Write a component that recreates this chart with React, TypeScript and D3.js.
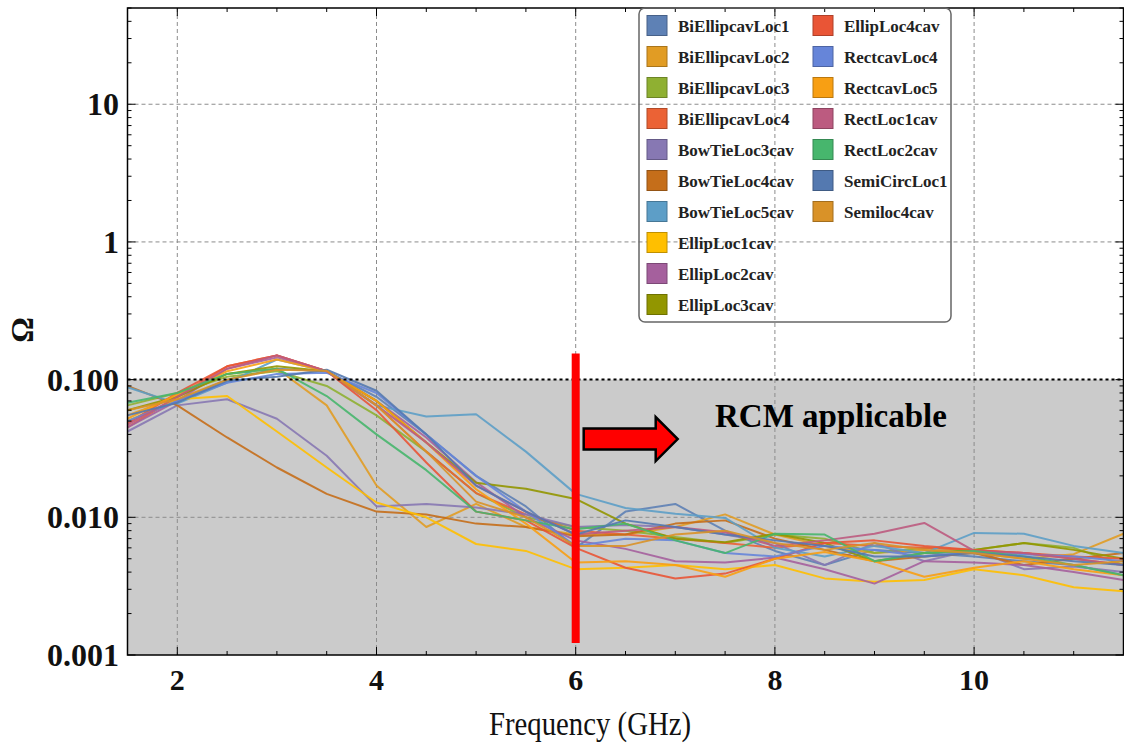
import React from "react";
import * as d3 from "d3";

// Frequency samples (GHz)
const freqs = [1.5, 2, 2.5, 3, 3.5, 4, 4.5, 5, 5.5, 6, 6.5, 7, 7.5, 8, 8.5, 9, 9.5, 10, 10.5, 11, 11.5];

const seriesNames = [
  "BiEllipcavLoc1", "BiEllipcavLoc2", "BiEllipcavLoc3", "BiEllipcavLoc4",
  "BowTieLoc3cav", "BowTieLoc4cav", "BowTieLoc5cav", "EllipLoc1cav",
  "EllipLoc2cav", "EllipLoc3cav", "EllipLoc4cav", "RectcavLoc4",
  "RectcavLoc5", "RectLoc1cav", "RectLoc2cav", "SemiCircLoc1", "Semiloc4cav",
];

const seriesColors = [
  "#5E81B5", "#E19C24", "#8FB032", "#EB6235",
  "#8778B3", "#C56E1A", "#5D9EC7", "#FFBF00",
  "#A5609D", "#929600", "#E95536", "#6685D9",
  "#F89F13", "#BC5B80", "#47B66D", "#5479B0", "#D99228",
];

// Ω values per geometry, one array per series
const biEllipcavLoc1 = [0.05, 0.07, 0.1, 0.12, 0.115, 0.075, 0.04, 0.02, 0.012, 0.006, 0.011, 0.0125, 0.008, 0.0057, 0.0045, 0.0058, 0.0055, 0.0052, 0.0048, 0.0045, 0.0038];
const biEllipcavLoc2 = [0.055, 0.075, 0.11, 0.12, 0.065, 0.017, 0.0085, 0.0125, 0.0085, 0.0075, 0.0075, 0.0085, 0.0105, 0.0075, 0.0062, 0.0055, 0.0058, 0.0055, 0.005, 0.0054, 0.0076];
const biEllipcavLoc3 = [0.065, 0.08, 0.105, 0.115, 0.09, 0.055, 0.03, 0.015, 0.01, 0.0085, 0.008, 0.0072, 0.0065, 0.0075, 0.007, 0.0055, 0.006, 0.0058, 0.0065, 0.006, 0.0045];
const biEllipcavLoc4 = [0.045, 0.075, 0.125, 0.15, 0.115, 0.065, 0.03, 0.015, 0.0105, 0.008, 0.0075, 0.007, 0.0065, 0.006, 0.0065, 0.0062, 0.006, 0.0058, 0.0055, 0.005, 0.0045];
const bowTieLoc3cav = [0.042, 0.065, 0.072, 0.052, 0.028, 0.012, 0.0125, 0.0118, 0.0105, 0.0085, 0.0088, 0.0085, 0.0075, 0.0065, 0.0045, 0.0065, 0.0048, 0.0058, 0.0042, 0.0044, 0.004];
const bowTieLoc4cav = [0.09, 0.065, 0.038, 0.023, 0.0148, 0.011, 0.0105, 0.009, 0.0085, 0.0073, 0.0075, 0.009, 0.0095, 0.007, 0.0058, 0.0048, 0.0052, 0.0055, 0.0045, 0.005, 0.0055];
const bowTieLoc5cav = [0.088, 0.067, 0.095, 0.14, 0.115, 0.065, 0.054, 0.056, 0.03, 0.0148, 0.0117, 0.0106, 0.0099, 0.006, 0.0052, 0.0062, 0.0055, 0.0077, 0.0076, 0.0062, 0.0055];
const ellipLoc1cav = [0.05, 0.072, 0.076, 0.042, 0.023, 0.0128, 0.01, 0.0064, 0.0057, 0.0042, 0.0043, 0.0045, 0.0042, 0.0045, 0.0036, 0.0034, 0.0035, 0.0042, 0.0038, 0.0031, 0.0029];
const ellipLoc2cav = [0.045, 0.07, 0.12, 0.145, 0.115, 0.07, 0.038, 0.018, 0.01, 0.0068, 0.0059, 0.0048, 0.0047, 0.0051, 0.0042, 0.0033, 0.0048, 0.0047, 0.0045, 0.004, 0.0035];
const ellipLoc3cav = [0.06, 0.075, 0.11, 0.125, 0.115, 0.07, 0.035, 0.0178, 0.0161, 0.0136, 0.009, 0.007, 0.0066, 0.0076, 0.0065, 0.0048, 0.0055, 0.0058, 0.0065, 0.0058, 0.005];
const ellipLoc4cav = [0.048, 0.08, 0.125, 0.15, 0.115, 0.06, 0.025, 0.011, 0.0095, 0.006, 0.0043, 0.0036, 0.0039, 0.005, 0.0065, 0.0068, 0.0062, 0.0058, 0.0055, 0.0052, 0.005];
const rectcavLoc4 = [0.05, 0.07, 0.095, 0.11, 0.112, 0.08, 0.04, 0.02, 0.011, 0.0062, 0.007, 0.0068, 0.0055, 0.0052, 0.0062, 0.0058, 0.0052, 0.0056, 0.0054, 0.0052, 0.0048];
const rectcavLoc5 = [0.052, 0.078, 0.115, 0.14, 0.115, 0.07, 0.035, 0.016, 0.009, 0.0047, 0.0048, 0.0045, 0.0037, 0.005, 0.0056, 0.0048, 0.0037, 0.0043, 0.0048, 0.0042, 0.0038];
const rectLoc1cav = [0.047, 0.075, 0.12, 0.15, 0.115, 0.065, 0.035, 0.017, 0.011, 0.0075, 0.008, 0.0085, 0.0078, 0.0062, 0.0068, 0.0076, 0.0091, 0.0057, 0.0055, 0.005, 0.0045];
const rectLoc2cav = [0.068, 0.08, 0.11, 0.12, 0.076, 0.04, 0.022, 0.011, 0.0095, 0.0082, 0.009, 0.0068, 0.0055, 0.0076, 0.0075, 0.0048, 0.0055, 0.0057, 0.0052, 0.0045, 0.0038];
const semiCircLoc1 = [0.055, 0.068, 0.098, 0.105, 0.118, 0.083, 0.04, 0.017, 0.011, 0.0075, 0.0095, 0.0085, 0.0075, 0.0068, 0.0062, 0.0052, 0.0052, 0.0055, 0.0052, 0.0048, 0.0045];
const semiloc4cav = [0.06, 0.072, 0.1, 0.118, 0.116, 0.065, 0.03, 0.013, 0.01, 0.0062, 0.0062, 0.0075, 0.008, 0.0065, 0.0058, 0.0065, 0.0058, 0.0055, 0.005, 0.0045, 0.0048];

const seriesValues = [
  biEllipcavLoc1, biEllipcavLoc2, biEllipcavLoc3, biEllipcavLoc4,
  bowTieLoc3cav, bowTieLoc4cav, bowTieLoc5cav, ellipLoc1cav,
  ellipLoc2cav, ellipLoc3cav, ellipLoc4cav, rectcavLoc4,
  rectcavLoc5, rectLoc1cav, rectLoc2cav, semiCircLoc1, semiloc4cav,
];

const xTickValues = [2, 4, 6, 8, 10];
const yTickValues = [0.001, 0.01, 0.1, 1, 10];
const yTickLabels = ["0.001", "0.010", "0.100", "1", "10"];

// Applicability threshold and the 6 GHz marker
const threshold = 0.1;
const markerFreq = 6;
const markerTop = 0.155;
const markerBottom = 0.00122;

const W = 1124;
const H = 746;
const plot = { left: 127.5, right: 1123.5, top: 8, bottom: 655 };
const serif = "'Liberation Serif', 'Times New Roman', serif";

export default function App() {
  const x = d3.scaleLinear().domain([1.5, 11.5]).range([plot.left, plot.right]);
  const y = d3.scaleLog().domain([0.001, 50]).range([plot.bottom, plot.top]);
  const line = d3
    .line<number>()
    .x((_, i) => x(freqs[i]))
    .y((d) => y(d));

  const xMinor = d3.range(1.5, 11.51, 0.5);
  const yMinor: number[] = [];
  for (let e = -3; e <= 1; e++) {
    for (let m = 1; m <= 9; m++) {
      const v = m * Math.pow(10, e);
      if (v <= 50) yMinor.push(v);
    }
  }

  const arrowX0 = x(markerFreq) + 8;
  const arrowY = y(0.037);
  const arrowPts = [
    [arrowX0, arrowY - 10.5],
    [arrowX0 + 72, arrowY - 10.5],
    [arrowX0 + 72, arrowY - 22],
    [arrowX0 + 94, arrowY],
    [arrowX0 + 72, arrowY + 22],
    [arrowX0 + 72, arrowY + 10.5],
    [arrowX0, arrowY + 10.5],
  ];

  const legendLeft = 639;
  const legendTop = 8;
  const rowH = 31;
  const colX = [647, 813];

  return (
    <svg
      width={W}
      height={H}
      style={{ position: "absolute", left: 0, top: 0, background: "#fff" }}
      fontFamily={serif}
    >
      <defs>
        <clipPath id="plotClip">
          <rect x={plot.left} y={plot.top} width={plot.right - plot.left} height={plot.bottom - plot.top} />
        </clipPath>
      </defs>

      {/* shaded region below the threshold */}
      <rect
        x={plot.left}
        y={y(threshold)}
        width={plot.right - plot.left}
        height={y(0.001) - y(threshold)}
        fill="#cbcbcb"
      />

      {/* grid */}
      <g stroke="#8c8c8c" strokeWidth={1} strokeDasharray="4,3">
        {xTickValues.map((t) => (
          <line key={"gx" + t} x1={x(t)} x2={x(t)} y1={plot.top} y2={plot.bottom} />
        ))}
        {[0.01, 1, 10].map((t) => (
          <line key={"gy" + t} x1={plot.left} x2={plot.right} y1={y(t)} y2={y(t)} />
        ))}
      </g>

      {/* series */}
      <g clipPath="url(#plotClip)" fill="none" strokeWidth={2} strokeLinejoin="round">
        {seriesValues.map((vals, i) => (
          <path key={seriesNames[i]} d={line(vals) || ""} stroke={seriesColors[i]} strokeOpacity={0.9} />
        ))}
      </g>

      {/* threshold line */}
      <line
        x1={plot.left}
        x2={plot.right}
        y1={y(threshold)}
        y2={y(threshold)}
        stroke="#000"
        strokeWidth={2}
        strokeDasharray="3,3"
      />

      {/* frame */}
      <rect
        x={plot.left}
        y={plot.top}
        width={plot.right - plot.left}
        height={plot.bottom - plot.top}
        fill="none"
        stroke="#000"
        strokeWidth={1.5}
      />

      {/* ticks */}
      <g stroke="#000" strokeWidth={1}>
        {xMinor.map((t) => {
          const major = xTickValues.includes(t);
          const len = major ? 8 : 4;
          return (
            <g key={"tx" + t}>
              <line x1={x(t)} x2={x(t)} y1={plot.bottom} y2={plot.bottom - len} />
              <line x1={x(t)} x2={x(t)} y1={plot.top} y2={plot.top + len} />
            </g>
          );
        })}
        {yMinor.map((t) => {
          const major = yTickValues.some((v) => Math.abs(v - t) / t < 1e-9);
          const len = major ? 8 : 4;
          return (
            <g key={"ty" + t}>
              <line x1={plot.left} x2={plot.left + len} y1={y(t)} y2={y(t)} />
              <line x1={plot.right} x2={plot.right - len} y1={y(t)} y2={y(t)} />
            </g>
          );
        })}
      </g>

      {/* tick labels */}
      <g fontWeight="bold" fill="#111">
        {xTickValues.map((t) => (
          <text key={"lx" + t} x={x(t)} y={690} textAnchor="middle" fontSize={30}>
            {t}
          </text>
        ))}
        {yTickValues.map((t, i) => (
          <text key={"ly" + t} x={119} y={y(t) + 11} textAnchor="end" fontSize={32}>
            {yTickLabels[i]}
          </text>
        ))}
      </g>

      {/* axis titles */}
      <text
        x={590}
        y={735}
        textAnchor="middle"
        fontSize={33}
        fill="#111"
        textLength={202}
        lengthAdjust="spacingAndGlyphs"
      >
        Frequency (GHz)
      </text>
      <text
        transform={`translate(33, ${y(0.23)}) rotate(-90)`}
        textAnchor="middle"
        fontSize={32}
        fontWeight="bold"
        fill="#111"
      >
        Ω
      </text>

      {/* 6 GHz marker */}
      <line
        x1={x(markerFreq)}
        x2={x(markerFreq)}
        y1={y(markerTop)}
        y2={y(markerBottom)}
        stroke="#ff0000"
        strokeWidth={8}
      />
      <polygon
        points={arrowPts.map((p) => p.join(",")).join(" ")}
        fill="#ff0000"
        stroke="#000"
        strokeWidth={2.5}
        strokeLinejoin="miter"
      />
      <text x={715} y={427} fontSize={33} fontWeight="bold" fill="#000">
        RCM applicable
      </text>

      {/* legend */}
      <rect
        x={legendLeft}
        y={legendTop}
        width={312}
        height={314}
        rx={6}
        fill="#fff"
        fillOpacity={0}
        stroke="#666"
        strokeWidth={1.5}
      />
      <g fontSize={17} fontWeight="bold" fill="#222">
        {seriesNames.map((name, i) => {
          const col = i < 10 ? 0 : 1;
          const row = i < 10 ? i : i - 10;
          const cy = 25.5 + row * rowH;
          return (
            <g key={"lg" + name}>
              <rect
                x={colX[col]}
                y={cy - 10}
                width={20}
                height={20}
                fill={seriesColors[i]}
                stroke={d3.color(seriesColors[i])!.darker(0.8).toString()}
                strokeWidth={1}
              />
              <text x={colX[col] + 31} y={cy + 6}>
                {name}
              </text>
            </g>
          );
        })}
      </g>
    </svg>
  );
}
